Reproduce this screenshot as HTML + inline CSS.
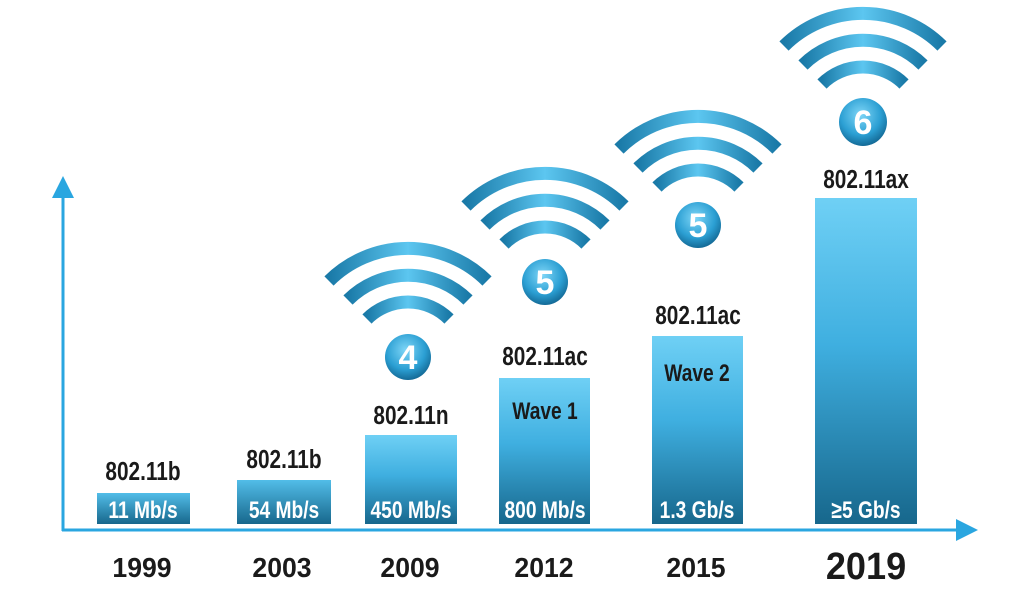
<!DOCTYPE html>
<html><head><meta charset="utf-8"><style>
html,body{margin:0;padding:0;background:#fff;}
svg{display:block;}
text{font-family:"Liberation Sans",sans-serif;font-weight:bold;}
</style></head><body>
<svg width="1024" height="596" viewBox="0 0 1024 596" xmlns="http://www.w3.org/2000/svg">
<defs>
<linearGradient id="bar" x1="0" y1="0" x2="0" y2="1">
<stop offset="0" stop-color="#6fd0f5"/><stop offset="0.45" stop-color="#3fafe0"/><stop offset="1" stop-color="#17678c"/>
</linearGradient>
<linearGradient id="barS" x1="0" y1="0" x2="0" y2="1">
<stop offset="0" stop-color="#52bde8"/><stop offset="1" stop-color="#17678c"/>
</linearGradient>
<linearGradient id="arc" x1="0" y1="0" x2="1" y2="0">
<stop offset="0" stop-color="#1a7aa8"/><stop offset="0.5" stop-color="#5cc6f0"/><stop offset="1" stop-color="#1a7aa8"/>
</linearGradient>
<radialGradient id="ball" cx="0.45" cy="0.35" r="0.7">
<stop offset="0" stop-color="#7fd6f7"/><stop offset="0.6" stop-color="#2b9fd3"/><stop offset="1" stop-color="#0f5f8a"/>
</radialGradient>
<g id="wifi" fill="none" stroke="url(#arc)" stroke-width="13">
<path d="M-79,-79 A112,112 0 0 1 79,-79"/>
<path d="M-60,-60 A85,85 0 0 1 60,-60"/>
<path d="M-41,-41 A58,58 0 0 1 41,-41"/>
</g>
</defs>
<line x1="63" y1="190" x2="63" y2="531" stroke="#2aa6e0" stroke-width="3"/>
<polygon points="63,176 52,198 74,198" fill="#2aa6e0"/>
<line x1="62" y1="530" x2="962" y2="530" stroke="#2aa6e0" stroke-width="3"/>
<polygon points="978,530 956,519 956,541" fill="#2aa6e0"/>
<rect x="97" y="493" width="93" height="31" fill="url(#barS)"/>
<rect x="237" y="480" width="94" height="44" fill="url(#barS)"/>
<rect x="365" y="435" width="92" height="89" fill="url(#bar)"/>
<rect x="499" y="378" width="91" height="146" fill="url(#bar)"/>
<rect x="652" y="336" width="91" height="188" fill="url(#bar)"/>
<rect x="815" y="198" width="102" height="326" fill="url(#bar)"/>
<use href="#wifi" transform="translate(408,360)"/>
<use href="#wifi" transform="translate(545,285)"/>
<use href="#wifi" transform="translate(698,228)"/>
<use href="#wifi" transform="translate(863,125)"/>
<g font-size="34" fill="#fff" text-anchor="middle">
<circle cx="408" cy="357" r="23" fill="url(#ball)"/><text x="408" y="369">4</text>
<circle cx="545" cy="282" r="23" fill="url(#ball)"/><text x="545" y="294">5</text>
<circle cx="698" cy="225" r="23" fill="url(#ball)"/><text x="698" y="237">5</text>
<circle cx="863" cy="122" r="24" fill="url(#ball)"/><text x="863" y="134">6</text>
</g>
<g font-size="26" fill="#1a1a1a" text-anchor="middle">
<text transform="translate(143,480) scale(0.8,1)">802.11b</text>
<text transform="translate(284,468) scale(0.8,1)">802.11b</text>
<text transform="translate(411,424) scale(0.8,1)">802.11n</text>
<text transform="translate(545,365) scale(0.8,1)">802.11ac</text>
<text transform="translate(698,324) scale(0.8,1)">802.11ac</text>
<text transform="translate(866,188) scale(0.8,1)">802.11ax</text>
<text transform="translate(545,419) scale(0.8,1)" font-size="24">Wave 1</text>
<text transform="translate(697,381) scale(0.8,1)" font-size="24">Wave 2</text>
</g>
<g font-size="24" fill="#fff" text-anchor="middle">
<text transform="translate(143,518) scale(0.8,1)">11 Mb/s</text>
<text transform="translate(284,518) scale(0.8,1)">54 Mb/s</text>
<text transform="translate(411,518) scale(0.8,1)">450 Mb/s</text>
<text transform="translate(545,518) scale(0.8,1)">800 Mb/s</text>
<text transform="translate(697,518) scale(0.8,1)">1.3 Gb/s</text>
<text transform="translate(866,518) scale(0.8,1)">≥5 Gb/s</text>
</g>
<g font-size="28" fill="#1a1a1a" text-anchor="middle">
<text transform="translate(142,577) scale(0.95,1)">1999</text>
<text transform="translate(282,577) scale(0.95,1)">2003</text>
<text transform="translate(410,577) scale(0.95,1)">2009</text>
<text transform="translate(544,577) scale(0.95,1)">2012</text>
<text transform="translate(696,577) scale(0.95,1)">2015</text>
<text transform="translate(866,579) scale(0.95,1)" font-size="38">2019</text>
</g>
</svg>
</body></html>
